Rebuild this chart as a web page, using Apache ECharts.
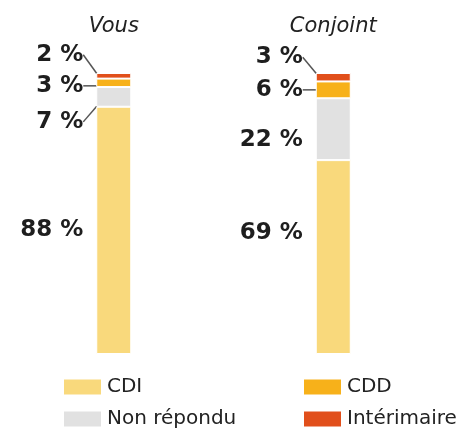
<!DOCTYPE html>
<html><head><meta charset="utf-8">
<script src="https://cdn.jsdelivr.net/npm/echarts@6/dist/echarts.min.js"></script>
<style>html,body{margin:0;padding:0;background:#fff}#c{width:471px;height:438px}</style>
</head><body><div id="c"></div>
<script>
const categories = ['Vous', 'Conjoint'];
const seriesNames = ['CDI', 'Non répondu', 'CDD', 'Intérimaire'];
const cdi = [88, 69];
const nonRepondu = [7, 22];
const cdd = [3, 6];
const interimaire = [2, 3];

const values = [cdi, nonRepondu, cdd, interimaire];
const colors = ['#F9D97C', '#E1E1E1', '#F7B11A', '#E14F1B'];
// label vertical shifts per bar (Vous, Conjoint)
const labelShift = [[0, -24], [25, 11], [3, 0], [-21, -20]];
const labelLines = [[false, false], [true, false], [true, true], [true, true]];
// legend placement (one legend block per entry: [left, top])
const legendPos = [[62, 377], [62, 409], [302, 377], [302, 409]];

const FONT = 'DejaVu Sans';
const chart = echarts.init(document.getElementById('c'), null, {renderer: 'canvas'});
const series = seriesNames.map((name, s) => ({
  name: name,
  type: 'bar',
  stack: 'total',
  barWidth: 35,
  itemStyle: {color: colors[s], borderColor: '#fff', borderWidth: 1},
  label: {
    show: true,
    position: 'left',
    distance: 13,
    formatter: p => p.value + ' %',
    fontFamily: FONT,
    fontWeight: 'bold',
    fontSize: 23,
    color: '#1e1e1e'
  },
  labelLine: {show: true, lineStyle: {color: '#555', width: 1.5}},
  labelLayout: p => ({dy: labelShift[s][p.dataIndex]}),
  data: values[s].map((v, i) => ({value: v, labelLine: {show: labelLines[s][i]}}))
}));

const legends = seriesNames.map((name, s) => ({
  data: [name], left: legendPos[s][0], top: legendPos[s][1], icon: 'rect',
  itemWidth: 39, itemHeight: 17, itemTextGap: 10, padding: 0,
  selectedMode: false,
  textStyle: {fontFamily: FONT, fontSize: 20, color: '#222'}
}));

chart.setOption({
  animation: false,
  backgroundColor: '#fff',
  grid: {left: 4, width: 439, top: 73, bottom: 84},
  xAxis: {
    type: 'category',
    data: categories,
    position: 'top',
    axisLine: {show: false},
    axisTick: {show: false},
    axisLabel: {margin: 36, fontFamily: FONT, fontStyle: 'italic', fontSize: 21, color: '#222'}
  },
  yAxis: {type: 'value', min: 0, max: 100, show: false},
  legend: legends,
  series: series
});
</script></body></html>
